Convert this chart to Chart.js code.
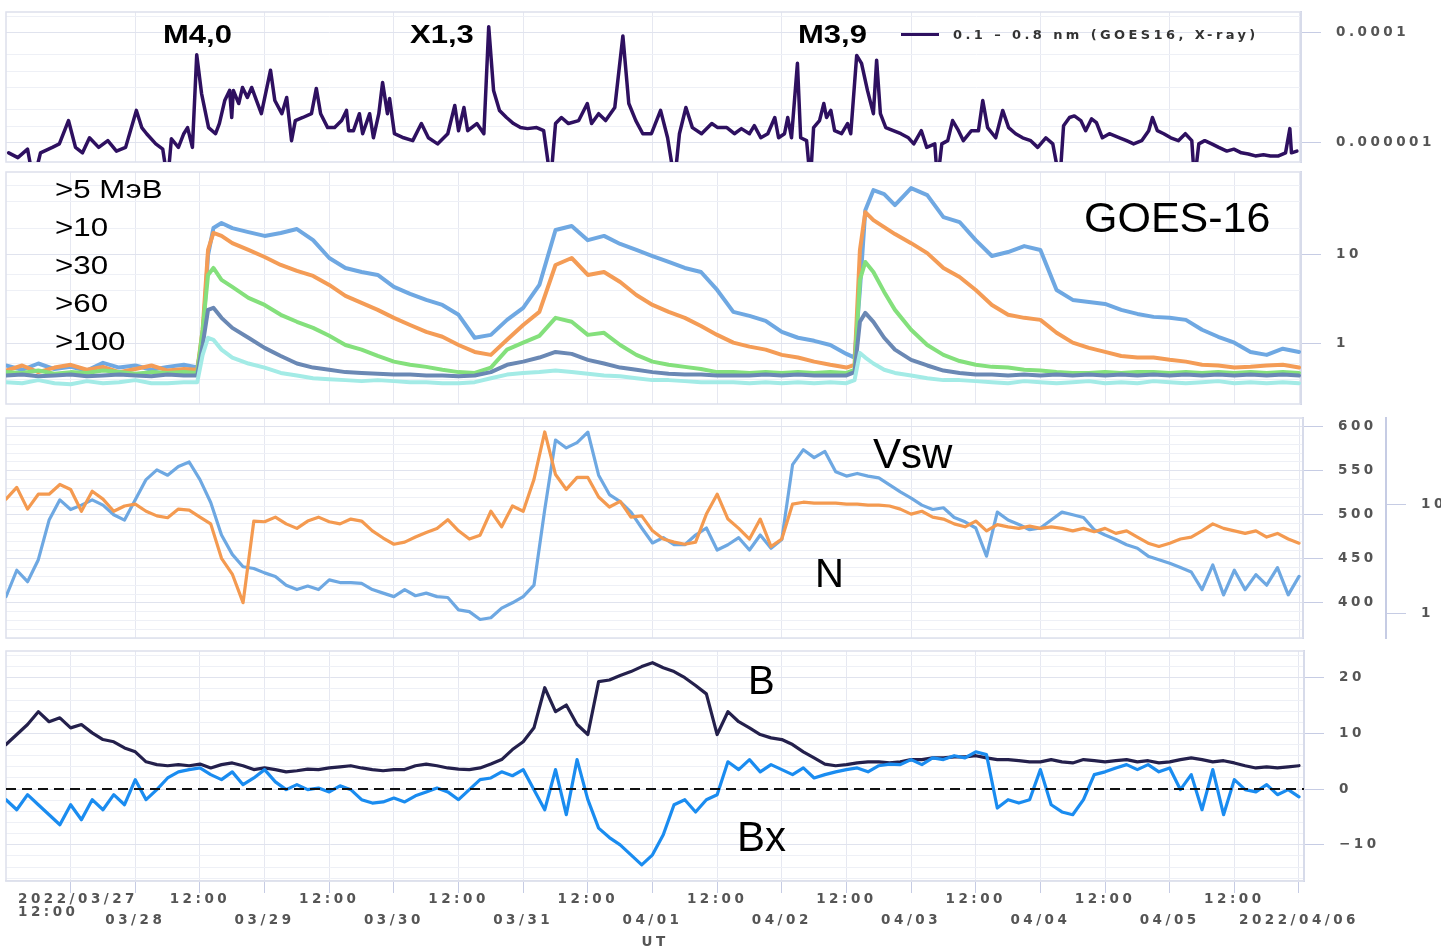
<!DOCTYPE html>
<html>
<head>
<meta charset="utf-8">
<title>GOES-16 X-ray, protons and solar wind, 2022-03-27 – 04-06</title>
<script src="https://cdn.jsdelivr.net/npm/chart.js@4.4.1/dist/chart.umd.min.js"></script>
<style>
  html, body { margin: 0; background: #fff; }
  body { position: relative; width: 1441px; height: 951px; overflow: hidden; font-family: "Liberation Sans", Arial, sans-serif; }
  canvas { position: absolute; left: 0; }
  .txt { position: absolute; white-space: nowrap; color: #000; line-height: 1; }
  .flare { top: 22px; font-size: 25px; font-weight: bold; transform: scaleX(1.24); transform-origin: 0 0; }
  .chan { left: 55px; top: 170px; font-size: 25px; line-height: 38px; transform: scaleX(1.25); transform-origin: 0 0; }
  .axisTxt { font-family: "DejaVu Sans", sans-serif; font-weight: bold; font-size: 13.5px; color: #555; letter-spacing: 3.5px; }
  #legend { left: 901px; top: 27px; font-family: "DejaVu Sans", sans-serif; font-weight: bold; font-size: 13px; letter-spacing: 3.4px; color: #333; line-height: 16px; }
  #legend i { display: inline-block; width: 38px; height: 3px; background: #2e1060; vertical-align: middle; margin-right: 14px; position: relative; top: -1px; }
</style>
</head>
<body>
<canvas id="xray" width="1441" height="180" style="top:0px"></canvas>
<canvas id="protons" width="1441" height="262" style="top:160px"></canvas>
<canvas id="wind" width="1441" height="250" style="top:406px"></canvas>
<canvas id="field" width="1441" height="312" style="top:639px"></canvas>

<div class="txt flare" style="left:163px">M4,0</div>
<div class="txt flare" style="left:410px">X1,3</div>
<div class="txt flare" style="left:798px">M3,9</div>
<div class="txt" id="legend"><i></i>0.1 – 0.8 nm (GOES16, X-ray)</div>
<div class="txt chan">&gt;5 МэВ<br>&gt;10<br>&gt;30<br>&gt;60<br>&gt;100</div>
<div class="txt" style="left:1084px;top:196px;font-size:43px">GOES-16</div>
<div class="txt" style="left:873px;top:433px;font-size:42px">Vsw</div>
<div class="txt" style="left:815px;top:553px;font-size:40px">N</div>
<div class="txt" style="left:748px;top:660px;font-size:40px">B</div>
<div class="txt" style="left:737px;top:816px;font-size:42px">Bx</div>
<div class="txt axisTxt" id="firstTick" style="left:18px;top:892px;line-height:13px"></div>

<script>
// hours since 2022-03-27 00:00 UT

// GOES-16 0.1-0.8 nm flux, in units of 1e-6 W/m2
const xrayHours = [
  0.5, 2.2, 4.0, 5.1, 6.4, 8.6, 9.9, 11.6, 12.9, 14.2, 15.5, 17.2, 18.9, 20.5, 22.2,
  24.2, 25.2, 26.1, 27.8, 29.1, 30.0, 30.7, 32.0, 33.0, 33.7, 34.6, 35.4, 36.3, 37.6, 38.9,
  39.6, 40.6, 41.5, 41.9, 42.2, 43.2, 43.9, 44.8, 45.6, 46.5, 47.4, 49.1, 49.9, 51.2, 52.1,
  53.0, 53.7, 55.1, 56.7, 57.6, 58.4, 59.7, 61.0, 62.3, 63.2, 63.6, 64.5, 65.6, 66.2, 67.5,
  68.2, 69.2, 69.9, 70.8, 71.2, 72.1, 73.8, 75.5, 77.1, 78.4, 80.1, 82.0, 83.3, 84.0, 85.0,
  85.7, 87.4, 88.7, 89.6, 90.5, 91.6, 92.9, 94.2, 95.5, 96.8, 98.5, 99.8, 101.1, 102.0, 103.1,
  104.4, 106.3, 107.9, 108.7, 110.0, 111.3, 113.0, 114.5, 115.6, 116.9, 118.2, 119.8, 121.5, 122.8, 124.1,
  125.0, 126.2, 127.4, 129.1, 131.0, 132.1, 133.8, 135.2, 136.5, 138.0, 138.9, 140.1, 141.4, 142.7, 143.4,
  144.5, 145.1, 145.8, 146.9, 147.5, 148.6, 149.3, 149.9, 151.0, 151.8, 152.3, 153.1, 153.8, 155.1, 156.2,
  156.8, 157.9, 158.8, 159.9, 161.0, 161.6, 162.3, 163.3, 164.7, 166.1, 167.5, 168.5, 169.9, 170.9, 172.4,
  172.9, 173.7, 174.8, 175.7, 176.8, 177.7, 179.2, 180.5, 181.3, 182.2, 183.7, 185.0, 186.1, 187.4, 188.7,
  190.2, 191.5, 193.0, 194.3, 195.6, 196.3, 197.4, 198.3, 199.5, 200.4, 201.5, 202.4, 203.5, 204.8, 206.7,
  208.0, 209.3, 210.8, 212.1, 212.8, 213.7, 214.9, 216.2, 217.6, 218.9, 220.1, 220.6, 221.4, 222.5, 223.8,
  225.1, 226.6, 227.9, 229.3, 230.6, 231.9, 233.4, 234.7, 236.2, 237.5, 238.3, 238.6, 239.6
];
const xrayMicro = [
  0.66, 0.54, 0.77, 0.2, 0.66, 0.83, 0.96, 2.55, 0.83, 0.66, 1.24, 0.83, 1.1, 0.71, 0.83,
  3.9, 1.9, 1.47, 0.96, 0.77, 0.2, 1.19, 0.83, 1.47, 1.9, 0.83, 40, 7.9, 1.9, 1.47,
  2.25, 5.9, 9.0, 2.9, 9.0, 5.2, 10.2, 6.7, 10.2, 5.9, 3.4, 21, 5.9, 3.4, 6.7,
  1.1, 2.55, 2.9, 3.4, 9.8, 3.4, 1.9, 1.9, 2.55, 3.9, 1.67, 1.67, 3.4, 1.47, 3.4,
  1.24, 3.4, 12.6, 3.4, 6.4, 1.47, 1.24, 1.1, 2.25, 1.24, 0.96, 1.47, 4.8, 1.67, 4.4,
  1.67, 2.25, 1.47, 130, 9.0, 3.9, 2.9, 2.25, 1.9, 1.82, 1.9, 1.67, 0.2, 2.25, 2.9,
  2.25, 2.55, 5.2, 2.25, 3.4, 2.55, 4.4, 88, 5.2, 2.55, 1.47, 1.47, 3.9, 1.24, 0.2,
  1.47, 4.4, 1.9, 1.47, 2.25, 1.9, 1.9, 1.47, 1.82, 1.47, 2.06, 1.24, 1.47, 2.9, 1.24,
  1.47, 2.9, 1.24, 28, 1.24, 1.1, 0.2, 1.9, 2.55, 5.2, 2.9, 3.9, 1.67, 1.47, 2.25,
  1.47, 39, 28, 9.0, 3.4, 32, 3.4, 1.9, 1.67, 1.47, 1.24, 0.96, 1.67, 0.83, 0.96,
  0.2, 0.96, 1.1, 2.55, 1.67, 1.1, 1.67, 1.67, 5.9, 1.9, 1.24, 3.9, 1.9, 1.47, 1.24,
  1.1, 0.83, 1.24, 0.96, 0.2, 2.06, 2.9, 3.1, 2.55, 1.67, 2.75, 2.35, 1.24, 1.47, 1.24,
  1.1, 0.96, 1.1, 1.67, 2.9, 1.67, 1.47, 1.24, 1.1, 1.47, 1.1, 0.2, 0.96, 1.1, 0.96,
  0.83, 0.71, 0.77, 0.66, 0.63, 0.58, 0.61, 0.58, 0.58, 0.66, 1.82, 0.66, 0.71
];

// GOES-16 integral proton flux, pfu
const protonHours = [
  0, 3, 6, 9, 12, 15, 18, 21, 24, 27, 30, 33,
  35.5, 36.5, 37.5, 38.5, 40,
  42, 45, 48, 51, 54, 57, 60, 63, 66, 69, 72, 75, 78, 81, 84, 87, 90, 93, 96, 99,
  102, 105, 108, 111, 114, 117, 120, 123, 126, 129, 132, 135, 138, 141, 144, 147, 150, 153, 156,
  157.5, 158.5, 159.5, 161, 163, 165,
  168, 171, 174, 177, 180,
  183, 186, 189, 192, 195, 198, 201, 204, 207, 210, 213, 216, 219, 222, 225, 228, 231, 234, 237, 240
];
const p5 = [
  0.57, 0.51, 0.60, 0.52, 0.55, 0.50, 0.61, 0.54, 0.57, 0.51, 0.55, 0.58,
  0.54, 1.11, 10, 20.1, 22.9,
  20.1, 18.1, 16.4, 17.7, 19.6, 14.7, 9.25, 7.14, 6.44, 5.96, 4.37, 3.65, 3.12, 2.74, 2.12, 1.17, 1.26, 1.86, 2.54, 4.6,
  19.1, 21.2, 14.7, 16.4, 13.3, 11.4, 9.74, 8.34, 7.14, 6.44, 4.04, 2.29, 2.06, 1.81, 1.36, 1.17, 1.08, 0.97, 0.77,
  0.70, 4.04, 32, 53.7, 48.5, 36.5,
  56.6, 47.2, 26.7, 23.5, 14.7,
  9.74, 10.8, 12.6, 11.4, 4.04, 3.12, 2.96, 2.81, 2.41, 2.17, 2.01, 1.96, 1.86, 1.44, 1.2, 1.03, 0.81, 0.75, 0.88, 0.81
];
const p10 = [
  0.50, 0.57, 0.48, 0.54, 0.58, 0.51, 0.55, 0.48, 0.52, 0.57, 0.50, 0.52,
  0.51, 1.44, 11.4, 17.7, 16.4,
  13.6, 11.4, 9.5, 7.72, 6.61, 5.81, 4.6, 3.46, 2.89, 2.41, 1.96, 1.63, 1.36, 1.2, 0.97, 0.81, 0.75, 1.11, 1.63, 2.29,
  7.72, 9.25, 5.96, 6.44, 4.97, 3.55, 2.74, 2.29, 1.96, 1.59, 1.26, 1.03, 0.93, 0.86, 0.75, 0.70, 0.63, 0.58, 0.54,
  0.58, 11.4, 30.4, 24.7, 20.6, 17.2,
  13.6, 10.5, 7.14, 5.66, 4.04,
  2.74, 2.12, 1.96, 1.86, 1.33, 1.03, 0.90, 0.81, 0.73, 0.70, 0.70, 0.66, 0.63, 0.58, 0.57, 0.54, 0.55, 0.57, 0.58, 0.54
];
const p30 = [
  0.48, 0.47, 0.50, 0.46, 0.48, 0.47, 0.50, 0.48, 0.46, 0.48, 0.47, 0.48,
  0.47, 1.44, 5.96, 7.14, 5.24,
  4.37, 3.29, 2.74, 2.12, 1.77, 1.51, 1.23, 0.97, 0.86, 0.73, 0.63, 0.58, 0.55, 0.51, 0.48, 0.47, 0.54, 0.86, 1.03, 1.23,
  1.96, 1.77, 1.26, 1.33, 0.97, 0.75, 0.63, 0.58, 0.55, 0.52, 0.48, 0.48, 0.47, 0.48, 0.47, 0.48, 0.47, 0.48, 0.47,
  0.51, 5.24, 8.34, 6.44, 3.84, 2.41,
  1.44, 0.97, 0.75, 0.64, 0.58,
  0.55, 0.54, 0.51, 0.50, 0.48, 0.47, 0.47, 0.48, 0.47, 0.48, 0.48, 0.47, 0.48, 0.47, 0.48, 0.47, 0.48, 0.47, 0.48, 0.47
];
const p60 = [
  0.44, 0.45, 0.43, 0.44, 0.45, 0.43, 0.44, 0.45, 0.44, 0.43, 0.45, 0.44,
  0.44, 0.97, 2.41, 2.54, 1.96,
  1.51, 1.17, 0.90, 0.73, 0.60, 0.54, 0.51, 0.48, 0.47, 0.46, 0.45, 0.45, 0.44, 0.44, 0.43, 0.44, 0.48, 0.58, 0.63, 0.70,
  0.81, 0.77, 0.66, 0.60, 0.54, 0.51, 0.48, 0.46, 0.45, 0.45, 0.44, 0.44, 0.44, 0.45, 0.44, 0.45, 0.44, 0.44, 0.44,
  0.48, 1.77, 2.23, 1.77, 1.17, 0.86,
  0.66, 0.57, 0.50, 0.47, 0.45,
  0.45, 0.44, 0.45, 0.44, 0.45, 0.44, 0.45, 0.44, 0.45, 0.44, 0.45, 0.44, 0.45, 0.44, 0.45, 0.44, 0.45, 0.44, 0.45, 0.44
];
const p100 = [
  0.37, 0.36, 0.39, 0.36, 0.35, 0.38, 0.36, 0.37, 0.39, 0.36, 0.36, 0.37,
  0.37, 0.75, 1.17, 1.11, 0.86,
  0.70, 0.60, 0.54, 0.47, 0.44, 0.41, 0.40, 0.39, 0.38, 0.39, 0.38, 0.37, 0.37, 0.36, 0.36, 0.37, 0.41, 0.45, 0.47, 0.48,
  0.50, 0.48, 0.46, 0.44, 0.43, 0.41, 0.39, 0.39, 0.38, 0.37, 0.37, 0.37, 0.36, 0.37, 0.36, 0.37, 0.36, 0.37, 0.36,
  0.39, 0.79, 0.70, 0.60, 0.51, 0.47,
  0.44, 0.41, 0.39, 0.39, 0.38,
  0.37, 0.36, 0.38, 0.37, 0.36, 0.37, 0.38, 0.36, 0.37, 0.36, 0.38, 0.37, 0.36, 0.37, 0.38, 0.36, 0.37, 0.36, 0.37, 0.36
];

// solar wind and IMF, every 2 h
const windHours = [
  0, 2, 4, 6, 8, 10, 12, 14, 16, 18, 20, 22, 24, 26, 28, 30, 32, 34, 36, 38,
  40, 42, 44, 46, 48, 50, 52, 54, 56, 58, 60, 62, 64, 66, 68, 70, 72, 74, 76, 78,
  80, 82, 84, 86, 88, 90, 92, 94, 96, 98, 100, 102, 104, 106, 108, 110, 112, 114, 116, 118,
  120, 122, 124, 126, 128, 130, 132, 134, 136, 138, 140, 142, 144, 146, 148, 150, 152, 154, 156, 158,
  160, 162, 164, 166, 168, 170, 172, 174, 176, 178, 180, 182, 184, 186, 188, 190, 192, 194, 196, 198,
  200, 202, 204, 206, 208, 210, 212, 214, 216, 218, 220, 222, 224, 226, 228, 230, 232, 234, 236, 238, 240
];
const vsw = [
  407, 437, 424, 449, 494, 517, 506, 511, 517, 511,
  500, 494, 517, 540, 551, 545, 555, 560, 540, 514,
  477, 455, 441, 439, 434, 430, 420, 415, 419, 415,
  426, 423, 423, 422, 415, 411, 407, 415, 408, 411,
  407, 406, 392, 390, 381, 383, 394, 400, 407, 420,
  506, 585, 576, 582, 594, 545, 523, 515, 503, 485,
  468, 474, 466, 466, 477, 485, 460, 466, 474, 460,
  477, 462, 472, 557, 574, 565, 572, 549, 544, 547,
  544, 542, 534, 526, 519, 511, 506, 508, 497, 492,
  485, 453, 503, 494, 489, 483, 485, 494, 503, 500,
  497, 483, 477, 472, 466, 462, 453, 449, 445, 440,
  435, 415, 443, 409, 437, 415, 432, 420, 440, 409,
  430
];
const density = [
  11.1, 14.2, 9.0, 12.3, 12.3, 15.1, 13.6, 8.6, 13.1, 11.1,
  8.6, 9.6, 10, 8.6, 7.8, 7.5, 9.0, 8.8, 7.6, 6.6,
  3.2, 2.3, 1.26, 7.0, 6.9, 7.6, 6.6, 6.0, 7.0, 7.6,
  6.9, 6.6, 7.3, 7.0, 5.7, 4.9, 4.3, 4.5, 5.0, 5.5,
  6.0, 7.2, 5.7, 4.8, 5.2, 8.6, 6.2, 9.6, 8.6, 16.8,
  45.5, 18.6, 13.6, 17.5, 17.5, 11.6, 9.4, 10.6, 7.6, 7.8,
  5.7, 4.8, 4.5, 4.3, 4.5, 8.1, 12.3, 7.3, 6.0, 4.8,
  7.3, 4.1, 4.8, 10, 10.4, 10.2, 10.2, 10.2, 10, 10,
  9.8, 9.8, 9.6, 9.0, 8.1, 8.6, 7.6, 7.3, 6.6, 6.2,
  7.0, 5.7, 6.5, 6.2, 6.0, 6.3, 6.0, 6.2, 6.0, 5.7,
  6.0, 5.6, 6.0, 5.4, 5.7, 5.0, 4.4, 4.1, 4.4, 4.8,
  5.0, 5.7, 6.6, 6.0, 5.7, 5.4, 5.7, 5.0, 5.4, 4.8,
  4.4
];
const bTotal = [
  8.0, 9.8, 11.6, 13.9, 12.1, 12.8, 11.0, 11.6, 10.1, 8.9,
  8.5, 7.4, 6.7, 4.9, 4.4, 4.2, 4.4, 4.2, 4.5, 3.8,
  4.4, 4.7, 4.2, 3.5, 3.8, 3.5, 3.1, 3.3, 3.6, 3.5,
  3.8, 4.0, 4.2, 3.8, 3.5, 3.3, 3.5, 3.5, 4.2, 4.5,
  4.2, 3.8, 3.6, 3.5, 3.8, 4.5, 5.3, 7.1, 8.5, 11.0,
  18.2, 13.9, 15.1, 11.6, 9.8, 19.3, 19.6, 20.4, 21.1, 22.0,
  22.7, 21.8, 21.1, 20.0, 18.6, 17.1, 9.8, 13.9, 12.1, 11.0,
  9.8, 9.2, 8.9, 8.0, 6.7, 5.6, 4.5, 4.2, 4.4, 4.7,
  4.9, 4.9, 4.7, 4.9, 5.3, 5.3, 5.6, 5.6, 5.8, 5.8,
  6.0, 5.6, 5.3, 5.3, 5.1, 4.9, 4.9, 5.3, 4.9, 4.7,
  5.3, 5.1, 4.9, 5.1, 5.3, 4.9, 5.1, 4.7, 4.9, 5.3,
  5.6, 5.3, 4.9, 5.1, 4.7, 4.2, 3.8, 4.0, 3.8, 4.0,
  4.2
];
const bx = [
  -1.9, -3.7, -1.0, -2.8, -4.6, -6.4, -2.8, -5.5, -1.9, -3.7,
  -1.0, -2.8, 1.7, -1.9, -0.1, 2.0, 3.1, 3.5, 3.8, 2.6,
  1.7, 3.1, 0.8, 2.0, 3.5, 1.3, -0.1, 0.8, -0.1, 0.2,
  -0.5, 0.6, -0.1, -1.9, -2.5, -2.3, -1.6, -2.3, -1.2, -0.5,
  0.2, -0.5, -1.9, -0.1, 1.7, 2.0, 3.1, 2.4, 3.5, -0.1,
  -3.7, 3.5, -4.6, 5.3, -1.9, -7.0, -8.7, -10.0, -11.8, -13.6,
  -11.8, -8.2, -2.8, -1.9, -4.1, -1.9, -1.0, 4.9, 3.5, 5.3,
  3.1, 4.4, 3.5, 2.6, 3.8, 2.0, 2.6, 3.1, 3.5, 3.8,
  3.1, 4.2, 4.5, 4.4, 5.3, 4.4, 5.6, 5.3, 6.0, 5.6,
  6.7, 6.2, -3.4, -1.9, -2.5, -1.9, 3.5, -2.8, -4.1, -4.6,
  -1.9, 2.6, 3.1, 3.8, 4.4, 3.5, 4.4, 3.1, 3.8, -0.1,
  2.6, -3.7, 3.5, -4.6, 1.7, -0.1, -0.5, 0.8, -1.0, -0.1,
  -1.4
];
const zeroHours = [0, 241];
const zeroLevel = [0, 0];

// axis ticks
const tickHours = [12, 24, 36, 48, 60, 72, 84, 96, 108, 120, 132, 144, 156, 168, 180, 192, 204, 216, 228, 240];
const tickLabels = ['2022/03/27 12:00', '03/28', '12:00', '03/29', '12:00', '03/30', '12:00', '03/31', '12:00', '04/01',
                    '12:00', '04/02', '12:00', '04/03', '12:00', '04/04', '12:00', '04/05', '12:00', '2022/04/06'];
const xrayGrid = [1e-6, 2e-6, 4e-6, 1e-5, 2e-5, 4e-5, 1e-4, 2e-4];
const xrayTickValues = [1e-6, 1e-4];
const xrayTickLabels = ['0.000001', '0.0001'];
const protonGrid = [0.4, 0.6, 1, 2, 4, 6, 10, 20, 40, 60];
const protonTickValues = [1, 10];
const protonTickLabels = ['1', '10'];
const vswTickValues = [400, 450, 500, 550, 600];
const vswTickLabels = ['400', '450', '500', '550', '600'];
const nTickValues = [1, 10];
const nTickLabels = ['1', '10'];
const bTickValues = [-10, 0, 10, 20];
const bTickLabels = ['\u221210', '0', '10', '20'];

document.getElementById('firstTick').innerHTML = tickLabels[0].replace(' ', '<br>');

const tickFont = { family: 'DejaVu Sans', size: 13.5, weight: 'bold' };

const look = {
  id: 'look',
  beforeLayout(c, a, o) { c.ctx.letterSpacing = o.spacing; },
  beforeDraw(c, a, o) { c.ctx.letterSpacing = o.spacing; },
  beforeDatasetsDraw(c) {
    const r = c.chartArea, g = c.ctx;
    g.save();
    g.strokeStyle = '#dde0ec';
    g.lineWidth = 1.5;
    g.strokeRect(r.left, r.top, r.right - r.left, r.bottom - r.top);
    g.restore();
  }
};

function steps(from, to, step) {
  const out = [];
  for (let v = from; v <= to + 1e-9; v += step) out.push(v);
  return out;
}

function hiddenX(max, step) {
  return {
    type: 'linear', min: 0, max,
    afterBuildTicks: s => { s.ticks = steps(step, max, step).map(v => ({ value: v })); },
    afterFit: s => { s.height = 0; s.paddingLeft = 0; s.paddingRight = 0; },
    ticks: { display: false, autoSkip: false },
    grid: { color: '#e6e8f1', lineWidth: 1, drawTicks: false },
    border: { display: false }
  };
}

function yAxis(c) {
  const marked = v => c.values.includes(v);
  return {
    type: c.type, position: 'right', min: c.min, max: c.max, weight: c.weight || 0,
    afterBuildTicks: s => { s.ticks = c.grid.map(v => ({ value: v })); },
    afterFit: s => { s.width = c.width; s.paddingTop = 0; s.paddingBottom = 0; },
    ticks: {
      color: '#555', padding: 15, autoSkip: false, font: tickFont,
      callback: v => { const i = c.values.indexOf(v); return i < 0 ? '' : c.labels[i]; }
    },
    grid: {
      drawOnChartArea: c.onArea !== false, tickLength: 20, lineWidth: 1,
      color: k => marked(k.tick && k.tick.value) ? '#e0e3ee' : '#eef0f6',
      tickColor: k => marked(k.tick && k.tick.value) ? '#c6cce4' : 'rgba(0,0,0,0)'
    },
    border: { display: true, color: '#c6cce4', width: 2 }
  };
}

function line(hours, values, color, width, extra) {
  return Object.assign({
    data: hours.map((h, i) => ({ x: h, y: values[i] })),
    borderColor: color, borderWidth: width, pointRadius: 0, fill: false
  }, extra || {});
}

function panel(id, datasets, scales, padding) {
  return new Chart(document.getElementById(id), {
    type: 'line',
    data: { datasets },
    options: {
      responsive: false, animation: false, events: [],
      layout: { padding },
      elements: { line: { tension: 0, borderJoinStyle: 'round', borderCapStyle: 'round' }, point: { radius: 0 } },
      plugins: { legend: { display: false }, tooltip: { enabled: false }, look: { spacing: '3.5px' } },
      scales
    },
    plugins: [look]
  });
}

// X-ray
panel('xray',
  [line(xrayHours, xrayMicro.map(v => v * 1e-6), '#2e1060', 3.5)],
  {
    x: hiddenX(240.37, 24),
    y: yAxis({ type: 'logarithmic', min: 4.5e-7, max: 2.4e-4, grid: xrayGrid, values: xrayTickValues, labels: xrayTickLabels, width: 140 })
  }, { left: 6, top: 12, right: 0, bottom: 18 });

// protons
panel('protons',
  [
    line(protonHours, p5, '#6fa8e2', 4, { order: 5 }),
    line(protonHours, p10, '#f49c56', 4, { order: 4 }),
    line(protonHours, p30, '#84e07c', 4, { order: 3 }),
    line(protonHours, p60, '#6a88b4', 4, { order: 2 }),
    line(protonHours, p100, '#a3ebe6', 4, { order: 1 })
  ],
  {
    x: hiddenX(240.37, 12),
    y: yAxis({ type: 'logarithmic', min: 0.21, max: 86, grid: protonGrid, values: protonTickValues, labels: protonTickLabels, width: 140 })
  }, { left: 6, top: 12, right: 0, bottom: 18 });

// solar wind speed and density
panel('wind',
  [
    line(windHours, vsw, '#6ea8e2', 3.2, { yAxisID: 'yV', order: 2 }),
    line(windHours, density, '#f49a50', 3.2, { yAxisID: 'yN', order: 1 })
  ],
  {
    x: hiddenX(240.74, 24),
    yV: yAxis({ type: 'linear', min: 360, max: 610, grid: steps(360, 610, 10), values: vswTickValues, labels: vswTickLabels, width: 83, weight: 0 }),
    yN: yAxis({ type: 'logarithmic', min: 0.63, max: 61, grid: nTickValues, values: nTickValues, labels: nTickLabels, width: 55, weight: 1, onArea: false })
  }, { left: 6, top: 12, right: 0, bottom: 18 });

// IMF
panel('field',
  [
    line(zeroHours, zeroLevel, '#111111', 2, { borderDash: [10, 6], order: 1, borderCapStyle: 'butt' }),
    line(windHours, bx, '#1a8cf0', 3.2, { order: 2 }),
    line(windHours, bTotal, '#24204c', 3.2, { order: 3 })
  ],
  {
    x: {
      type: 'linear', min: 0, max: 240.93,
      afterBuildTicks: s => { s.ticks = tickHours.map(v => ({ value: v })); },
      afterFit: s => { s.height = 70; s.paddingLeft = 0; s.paddingRight = 0; },
      ticks: {
        color: '#555', padding: -4, autoSkip: false, maxRotation: 0, minRotation: 0,
        font: { family: 'DejaVu Sans', size: 13.5, weight: 'bold', lineHeight: 1.55 },
        callback: (v, i) => i === 0 ? '' : (tickHours[i] % 24 === 0 ? ['', tickLabels[i]] : tickLabels[i])
      },
      grid: { color: '#e6e8f1', lineWidth: 1, tickLength: 12, tickColor: '#c6cce4' },
      border: { display: true, color: '#dde0ec', width: 1.5 },
      title: { display: true, text: 'UT', color: '#555', padding: 0, font: tickFont }
    },
    y: yAxis({ type: 'linear', min: -16.5, max: 24.8, grid: steps(-16, 24, 2), values: bTickValues, labels: bTickLabels, width: 137 })
  }, { left: 6, top: 12, right: 0, bottom: 0 });
</script>
</body>
</html>
